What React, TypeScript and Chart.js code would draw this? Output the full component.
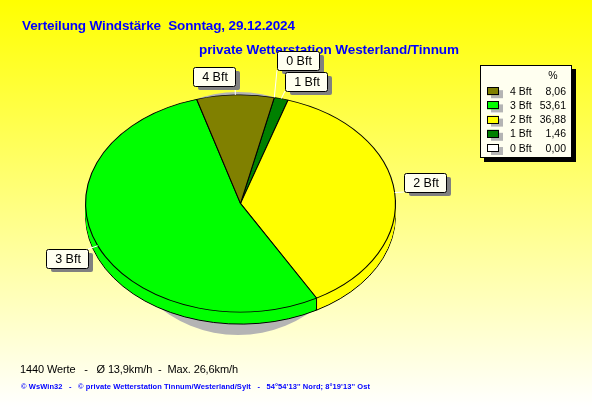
import React, { useEffect, useRef } from "react";
import { Chart, registerables } from "chart.js";

Chart.register(...registerables);

const categories = ["0 Bft", "1 Bft", "2 Bft", "3 Bft", "4 Bft"];
const shares = [0.0, 1.46, 36.88, 53.61, 8.06];
const shareLabels = ["0,00", "1,46", "36,88", "53,61", "8,06"];
const colours = ["#ffffff", "#008000", "#ffff00", "#00ff00", "#808000"];
const legendOrder = [4, 3, 2, 1, 0];
const titleLine = "Verteilung Windstärke  Sonntag, 29.12.2024";
const stationLine = "private Wetterstation Westerland/Tinnum";
const statsLine = "1440 Werte   -   Ø 13,9km/h  -  Max. 26,6km/h";
const creditLine = "© WsWin32   -   © private Wetterstation Tinnum/Westerland/Sylt   -   54°54'13'' Nord; 8°19'13'' Ost";

const W = 592;
const H = 407;
const FLAT = 109 / 155.5;
const DEPTH = 12;
const BLUE = "#0000ff";
const GREY = "#b4b4b4";
const CALL = "#808080";
const CREAM = "#fffff0";
const SANS = '"Liberation Sans", Arial, sans-serif';

// Box [x, y] for each category's callout
const calloutBoxes = [
  [277, 51],
  [285, 72],
  [404, 173],
  [46, 249],
  [193, 67],
];

function fitText(ctx: CanvasRenderingContext2D, text: string, x: number, y: number, width: number, font: string, color: string) {
  ctx.font = font;
  (ctx as any).letterSpacing = "0px";
  const w = ctx.measureText(text).width;
  (ctx as any).letterSpacing = `${(width - w) / (text.length - 1)}px`;
  ctx.fillStyle = color;
  ctx.textAlign = "left";
  ctx.textBaseline = "alphabetic";
  ctx.fillText(text, x, y);
  (ctx as any).letterSpacing = "0px";
}

const piePlugin = {
  id: "flatPie",
  beforeDraw(chart: any) {
    const ctx: CanvasRenderingContext2D = chart.ctx;
    const g = ctx.createLinearGradient(0, 0, 0, H);
    g.addColorStop(0, "#ffff00");
    g.addColorStop(1, "#ffffff");
    ctx.fillStyle = g;
    ctx.fillRect(0, 0, W, H);
    fitText(ctx, titleLine, 22, 30, 273, `bold 13.5px ${SANS}`, BLUE);
    fitText(ctx, stationLine, 199, 54, 260, `bold 13.5px ${SANS}`, BLUE);
    fitText(ctx, statsLine, 20, 373, 218, `11px ${SANS}`, "#000000");
    fitText(ctx, creditLine, 21, 389, 349, `bold 7.5px ${SANS}`, BLUE);
  },
  beforeDatasetsDraw(chart: any) {
    const ctx: CanvasRenderingContext2D = chart.ctx;
    const arcs: any[] = chart.getDatasetMeta(0).data;
    const first = arcs[0];
    const cx: number = first.x;
    const cy: number = first.y;
    const r: number = first.outerRadius;
    const ry = r * FLAT;

    // soft drop shadow behind the pie
    ctx.fillStyle = GREY;
    ctx.beginPath();
    ctx.ellipse(cx - 2.5, cy + 10, 124, 121.5, 0, 0, Math.PI * 2);
    ctx.fill();

    // side wall
    const sweep = (a: any, dy: number) => {
      ctx.beginPath();
      ctx.moveTo(cx, cy + dy);
      ctx.ellipse(cx, cy + dy, r, ry, 0, a.startAngle, a.endAngle);
      ctx.closePath();
    };
    for (let d = DEPTH; d >= 1; d--) {
      arcs.forEach((a, i) => {
        if (a.endAngle - a.startAngle <= 0) return;
        sweep(a, d);
        ctx.fillStyle = colours[i];
        ctx.fill();
        if (d === DEPTH) {
          ctx.strokeStyle = "#000";
          ctx.lineWidth = 1;
          ctx.stroke();
        }
      });
    }

    // seams on the visible front of the wall
    ctx.strokeStyle = "#000";
    ctx.lineWidth = 1;
    arcs.forEach((a) => {
      if (Math.sin(a.endAngle) <= 0 || a.endAngle - a.startAngle <= 0) return;
      const sx = cx + r * Math.cos(a.endAngle);
      const sy = cy + ry * Math.sin(a.endAngle);
      ctx.beginPath();
      ctx.moveTo(sx, sy);
      ctx.lineTo(sx, sy + DEPTH);
      ctx.stroke();
    });

    // top surface: the library's own arcs, flattened
    ctx.save();
    ctx.translate(cx, cy);
    ctx.scale(1, FLAT);
    ctx.translate(-cx, -cy);
    arcs.forEach((a) => a.draw(ctx));
    ctx.restore();

    // callouts
    arcs.forEach((a, i) => {
      const [bx, by] = calloutBoxes[i];
      const bw = 42;
      const bh = 19;
      const mid = (a.startAngle + a.endAngle) / 2;
      const ax = cx + r * Math.cos(mid);
      const ay = cy + ry * Math.sin(mid);
      const ex = Math.min(Math.max(ax, bx), bx + bw);
      const ey = Math.min(Math.max(ay, by), by + bh);
      ctx.strokeStyle = "#ffffff";
      ctx.lineWidth = 1;
      ctx.beginPath();
      ctx.moveTo(ax, ay);
      ctx.lineTo(ex, ey);
      ctx.stroke();
      ctx.fillStyle = CALL;
      ctx.beginPath();
      ctx.roundRect(bx + 5, by + 4, bw, bh, 2);
      ctx.fill();
      ctx.fillStyle = CREAM;
      ctx.strokeStyle = "#000";
      ctx.beginPath();
      ctx.roundRect(bx + 0.5, by + 0.5, bw, bh, 2);
      ctx.fill();
      ctx.stroke();
      ctx.fillStyle = "#000";
      ctx.font = `12.5px ${SANS}`;
      ctx.textAlign = "center";
      ctx.textBaseline = "middle";
      ctx.fillText(categories[i], bx + bw / 2 + 1, by + bh / 2 + 1);
    });

    // legend panel
    ctx.fillStyle = "#000000";
    ctx.fillRect(484, 69, 92, 93);
    ctx.fillStyle = CREAM;
    ctx.fillRect(480, 65, 92, 93);
    ctx.strokeStyle = "#000";
    ctx.strokeRect(480.5, 65.5, 91, 92);
    ctx.font = `10.5px ${SANS}`;
    ctx.textBaseline = "alphabetic";
    ctx.fillStyle = "#000";
    ctx.textAlign = "center";
    ctx.fillText("%", 553, 79);
    legendOrder.forEach((k, row) => {
      const y = 90.7 + row * 14.2;
      ctx.fillStyle = GREY;
      ctx.fillRect(491, y - 0.5, 12, 8);
      ctx.fillStyle = colours[k];
      ctx.fillRect(487, y - 3.5, 12, 8);
      ctx.strokeStyle = "#000";
      ctx.strokeRect(487.5, Math.round(y - 3.5) + 0.5, 11, 7);
      ctx.fillStyle = "#000";
      ctx.textAlign = "left";
      ctx.fillText(categories[k], 510, y + 4);
      ctx.textAlign = "right";
      ctx.fillText(shareLabels[k], 566, y + 4);
    });
    return false;
  },
};

export default function App() {
  const ref = useRef<HTMLCanvasElement>(null);
  useEffect(() => {
    document.body.style.margin = "0";
    const chart = new Chart(ref.current as HTMLCanvasElement, {
      type: "pie",
      data: {
        labels: categories,
        datasets: [
          {
            data: shares,
            backgroundColor: colours,
            borderColor: "#000000",
            borderWidth: 1.1,
            borderJoinStyle: "round",
          } as any,
        ],
      },
      options: {
        animation: false,
        responsive: false,
        devicePixelRatio: 1,
        rotation: 12.6,
        layout: { padding: { left: 85, right: 196, top: 0, bottom: 0 } },
        plugins: { legend: { display: false }, title: { display: false }, tooltip: { enabled: false } },
      } as any,
      plugins: [piePlugin as any],
    });
    return () => chart.destroy();
  }, []);
  return <canvas ref={ref} width={W} height={H} style={{ display: "block" }} />;
}
